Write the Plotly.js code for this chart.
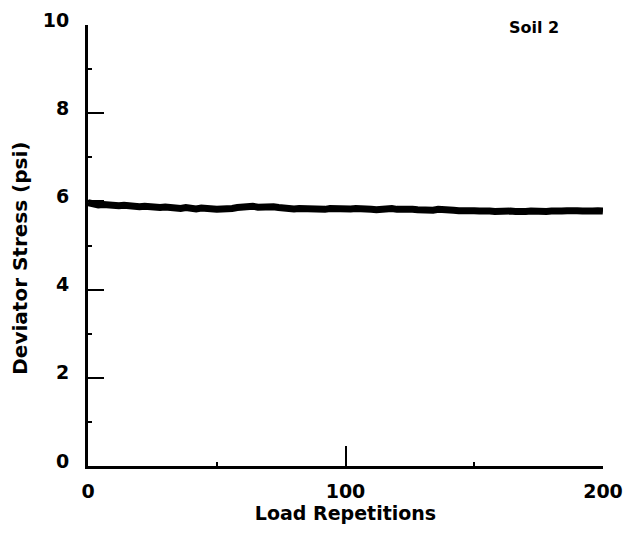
<!DOCTYPE html>
<html>
<head>
<meta charset="utf-8">
<script src="https://cdn.plot.ly/plotly-3.0.1.min.js"></script>
<style>html,body{margin:0;padding:0;background:#fff;}#chart{width:629px;height:535px;}</style>
</head>
<body>
<div id="chart"></div>
<script>
const repetitions = [0,2,4,6,8,10,12,14,16,18,20,22,24,26,28,30,32,34,36,38,40,42,44,46,48,50,52,54,56,58,60,62,64,66,68,70,72,74,76,78,80,82,84,86,88,90,92,94,96,98,100,102,104,106,108,110,112,114,116,118,120,122,124,126,128,130,132,134,136,138,140,142,144,146,148,150,152,154,156,158,160,162,164,166,168,170,172,174,176,178,180,182,184,186,188,190,192,194,196,198,200];
const deviatorStress = [5.97,5.93,5.92,5.93,5.91,5.92,5.90,5.91,5.89,5.90,5.88,5.89,5.87,5.88,5.86,5.87,5.85,5.86,5.84,5.86,5.84,5.83,5.85,5.83,5.84,5.82,5.83,5.82,5.84,5.86,5.88,5.87,5.89,5.87,5.88,5.86,5.88,5.86,5.84,5.85,5.83,5.84,5.83,5.82,5.84,5.83,5.82,5.84,5.83,5.85,5.84,5.83,5.84,5.82,5.83,5.82,5.81,5.83,5.82,5.84,5.82,5.83,5.81,5.82,5.81,5.80,5.81,5.80,5.82,5.80,5.79,5.80,5.79,5.80,5.78,5.79,5.78,5.79,5.78,5.77,5.78,5.77,5.78,5.77,5.76,5.77,5.78,5.77,5.79,5.77,5.78,5.80,5.78,5.79,5.77,5.79,5.78,5.80,5.78,5.79,5.78];
const xTickVals = [0,100,200];
const xTickText = ['0','100','200'];
const yTickVals = [0,2,4,6,8,10];
const yTickText = ['0','2','4','6','8','10'];
const xTitle = 'Load Repetitions';
const yTitle = 'Deviator Stress (psi)';
const panelLabel = 'Soil 2';

const FONT = '"DejaVu Sans", sans-serif';

const trace = {
  x: repetitions,
  y: deviatorStress,
  type: 'scatter',
  mode: 'lines',
  line: {color: '#000', width: 7},
  hoverinfo: 'skip',
  showlegend: false
};

const layout = {
  width: 629,
  height: 535,
  margin: {l: 88, r: 26, t: 25, b: 69, pad: 0},
  paper_bgcolor: '#fff',
  plot_bgcolor: '#fff',
  font: {family: FONT, color: '#000'},
  xaxis: {
    range: [0, 200],
    tickvals: xTickVals,
    ticktext: xTickText,
    showline: true, linecolor: '#000', linewidth: 3,
    showgrid: false, zeroline: false,
    ticks: 'inside', ticklen: 20, tickwidth: 2, tickcolor: '#000',
    minor: {dtick: 50, tick0: 0, ticks: 'inside', ticklen: 4, tickwidth: 2, tickcolor: '#000', showgrid: false},
    tickfont: {family: FONT, size: 19, weight: 'bold', color: '#000'},
    ticklabelstandoff: 6,
    title: {text: xTitle, font: {family: FONT, size: 19, weight: 'bold', color: '#000'}, standoff: 0}
  },
  yaxis: {
    range: [0, 10],
    tickvals: yTickVals,
    ticktext: yTickText,
    showline: true, linecolor: '#000', linewidth: 3,
    showgrid: false, zeroline: false,
    ticks: 'inside', ticklen: 16, tickwidth: 2, tickcolor: '#000',
    minor: {dtick: 1, tick0: 0, ticks: 'inside', ticklen: 4, tickwidth: 2, tickcolor: '#000', showgrid: false},
    tickfont: {family: FONT, size: 19, weight: 'bold', color: '#000'},
    ticklabelstandoff: 12,
    ticklabelshift: -5,
    title: {text: '', font: {family: FONT, size: 20, color: '#000'}}
  },
  annotations: [{
    text: yTitle,
    xref: 'paper', yref: 'paper',
    x: 0, y: 0.47, xanchor: 'center', yanchor: 'middle',
    xshift: -68,
    textangle: -90,
    showarrow: false,
    font: {family: FONT, size: 20, weight: 'bold', color: '#000'}
  }, {
    text: panelLabel,
    xref: 'paper', yref: 'paper',
    x: 0.866, y: 0.995, xanchor: 'center', yanchor: 'middle',
    showarrow: false,
    font: {family: FONT, size: 16, weight: 'bold', color: '#000'}
  }]
};

Plotly.newPlot('chart', [trace], layout, {displayModeBar: false, staticPlot: true});
</script>
</body>
</html>
